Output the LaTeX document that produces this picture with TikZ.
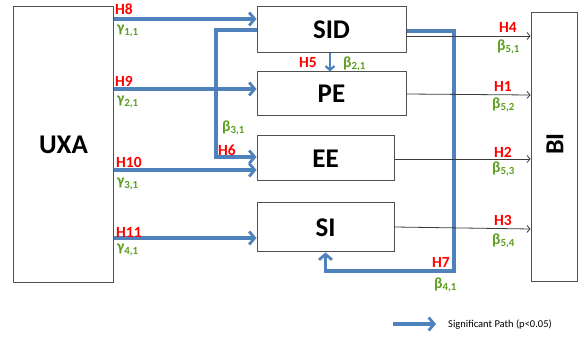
\documentclass[tikz,border=0pt]{standalone}
\usepackage{fontspec}
\setmainfont{Carlito}
\usetikzlibrary{arrows.meta}
\definecolor{pathblue}{RGB}{79,129,189}
\definecolor{hred}{RGB}{255,0,0}
\definecolor{bgreen}{RGB}{92,160,34}
\definecolor{boxline}{RGB}{80,80,80}
\definecolor{thinline}{RGB}{60,60,60}
\tikzset{
  construct/.style={draw=boxline, line width=1pt, fill=white, inner sep=0pt,
    font=\bfseries\fontsize{27}{27}\selectfont},
  sig/.style={draw=pathblue, line width=3.2pt,
    -{Straight Barb[length=5.5pt,width=13pt,line width=2.8pt]}},
  sigshort/.style={draw=pathblue, line width=2.6pt,
    -{Straight Barb[length=4pt,width=9pt,line width=2.2pt]}},
  thinarrow/.style={draw=thinline, line width=0.8pt,
    -{Straight Barb[length=3pt,width=7pt,line width=0.8pt]}},
  hyp/.style={text=hred, anchor=west, inner sep=0pt,
    font=\bfseries\fontsize{15.5}{15.5}\selectfont},
  coef/.style={text=bgreen, anchor=west, inner sep=0pt,
    font=\bfseries\fontsize{15.5}{15.5}\selectfont},
}
\begin{document}
\begin{tikzpicture}[x=1pt,y=-1pt]
  \useasboundingbox (0,0) rectangle (582,339);
  \fill[white] (0,0) rectangle (582,339);

  % constructs
  \node[construct, minimum width=100pt, minimum height=276pt] (uxa) at (63.5,145) {UXA};
  \node[construct, minimum width=149pt, minimum height=46pt] (sid) at (331.5,30) {SID};
  \node[construct, minimum width=149pt, minimum height=44pt] (pe) at (331.5,94) {PE};
  \node[construct, minimum width=137pt, minimum height=45pt] (ee) at (325.5,158.5) {EE};
  \node[construct, minimum width=137pt, minimum height=49pt] (si) at (325.5,227.5) {SI};
  \node[construct, minimum width=46pt, minimum height=269pt] (bi) at (554,147.5) {};
  \node[font=\bfseries\fontsize{26}{26}\selectfont, rotate=90] (bilabel) at (555,144) {BI};

  % paths from UXA
  \draw[sig] (uxa.east |- 0,19) -- (sid.west |- 0,19);
  \draw[sig] (uxa.east |- 0,89) -- (pe.west |- 0,89);
  \draw[sig] (uxa.east |- 0,170) -- (ee.west |- 0,170);
  \draw[sig] (uxa.east |- 0,238) -- (si.west |- 0,238);

  % paths from SID
  \draw[sig] (sid.west |- 0,30) -| (216,157) -- (ee.west |- 0,157);
  \draw[sigshort] (sid.south -| 330,0) -- (pe.north -| 330,0);
  \draw[sig] (sid.east |- 0,31) -| (454,271) -| (si.south);

  % paths into BI
  \draw[thinarrow] (sid.east |- 0,36) -- (bi.west |- 0,36);
  \draw[thinarrow] (pe.east |- 0,94) -- (bi.west |- 0,95);
  \draw[thinarrow] (ee.east |- 0,159) -- (bi.west |- 0,159);
  \draw[thinarrow] (si.east |- 0,227) -- (bi.west |- 0,229);

  % hypothesis labels
  \node[hyp] (h8) at (115,9) {H8};
  \node[coef] (g11) at (117,31) {γ\textsubscript{1,1}};
  \node[hyp] (h9) at (115,81) {H9};
  \node[coef] (g21) at (117,102) {γ\textsubscript{2,1}};
  \node[hyp] (h10) at (116,162) {H10};
  \node[coef] (g31) at (117,184) {γ\textsubscript{3,1}};
  \node[hyp] (h11) at (116,232) {H11};
  \node[coef] (g41) at (117,250) {γ\textsubscript{4,1}};

  \node[coef] (b31) at (222,128) {β\textsubscript{3,1}};
  \node[hyp] (h6) at (218,150.5) {H6};
  \node[hyp] (h5) at (299,63) {H5};
  \node[coef] (b21) at (343,64) {β\textsubscript{2,1}};
  \node[hyp] (h7) at (432,262) {H7};
  \node[coef] (b41) at (434,285) {β\textsubscript{4,1}};

  \node[hyp] (h4) at (499,27) {H4};
  \node[coef] (b51) at (497,47) {β\textsubscript{5,1}};
  \node[hyp] (h1) at (494,86) {H1};
  \node[coef] (b52) at (492,105) {β\textsubscript{5,2}};
  \node[hyp] (h2) at (494,152) {H2};
  \node[coef] (b53) at (492,169) {β\textsubscript{5,3}};
  \node[hyp] (h3) at (494,220) {H3};
  \node[coef] (b54) at (492,241) {β\textsubscript{5,4}};

  % legend
  \coordinate (legA) at (393,324);
  \coordinate (legB) at (436,324);
  \draw[sig] (legA) -- (legB);
  \node[anchor=west, inner sep=0pt, font=\fontsize{10.5}{10.5}\selectfont] (legtext) at (448,324.5) {Significant Path (p<0.05)};
\end{tikzpicture}
\end{document}
